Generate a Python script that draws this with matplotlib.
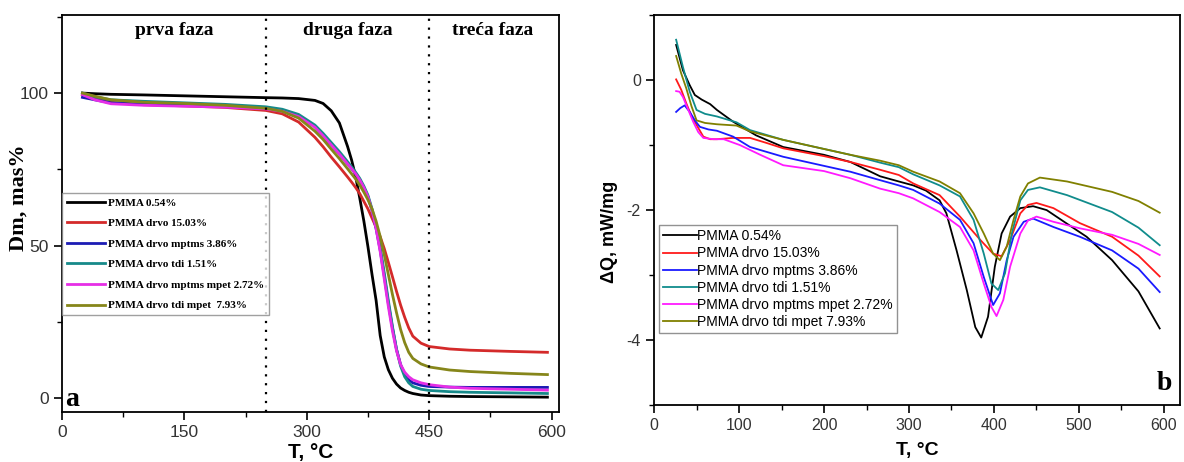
import numpy as np
import matplotlib
matplotlib.use("Agg")
import matplotlib.pyplot as plt
from matplotlib.ticker import MultipleLocator

plt.rcParams["axes.unicode_minus"] = False

# legend labels and colours
labels = ["PMMA 0.54%", "PMMA drvo 15.03%", "PMMA drvo mptms 3.86%",
          "PMMA drvo tdi 1.51%", "PMMA drvo mptms mpet 2.72%", "PMMA drvo tdi mpet  7.93%"]
labels_b = ["PMMA 0.54%", "PMMA drvo 15.03%", "PMMA drvo mptms 3.86%",
            "PMMA drvo tdi 1.51%", "PMMA drvo mptms mpet 2.72%", "PMMA drvo tdi mpet 7.93%"]
colors_a = ["#000000", "#d42a2a", "#1c1cb4", "#168a8a", "#e62ee6", "#86861a"]
colors_b = ["#000000", "#ff1a1a", "#1a1aff", "#108c8c", "#ff1aff", "#808000"]

# ---- panel a : TGA, mass %
T_tga = [25, 40, 60, 100, 150, 200, 250, 270, 290, 310, 320, 330, 340, 350, 355, 360, 365,
         370, 375, 380, 385, 390, 395, 400, 405, 410, 415, 420, 425, 430, 440, 450, 475,
         500, 550, 595]
m_black = [100, 99.8, 99.6, 99.4, 99.1, 98.8, 98.5, 98.4, 98.2, 97.6, 96.6, 94.2, 90.2, 82.5,
           78, 72.5, 65.5, 58, 49.6, 40.5, 32, 20.5, 13.5, 9.3, 6.5, 4.6, 3.3, 2.5, 1.9, 1.5,
           1.0, 0.8, 0.6, 0.5, 0.4, 0.3]
m_red = [99.5, 98.5, 97, 96.2, 95.8, 95.3, 94.3, 93.2, 90.5, 85.5, 82.4, 79, 75.8, 72.5, 70.8,
         69, 67, 64.5, 62, 59, 56, 52.9, 49, 44.5, 39.8, 35, 30.5, 26.5, 23, 20.3, 18, 16.9,
         16.1, 15.7, 15.3, 15.0]
m_blue = [98.6, 97.8, 96.8, 96.3, 96.0, 95.7, 95.0, 94.2, 92.5, 89, 86, 83, 80, 76.8, 75.2,
          73.5, 71.5, 69, 66, 61.5, 55.5, 48.5, 40, 31, 23, 16, 11, 7.8, 6, 5, 4.2, 3.8, 3.6,
          3.5, 3.5, 3.5]
m_teal = [100, 98.8, 97.8, 97.3, 96.8, 96.3, 95.5, 94.7, 93, 89.5, 86.8, 83.8, 80.8, 77.5,
          75.8, 74, 72, 69.5, 66.5, 62, 56.5, 49.5, 41, 32, 23.5, 16, 10.5, 7, 5, 3.8, 2.9,
          2.5, 2.1, 1.9, 1.7, 1.5]
m_mag = [99.5, 97.8, 96.5, 96, 95.7, 95.4, 94.8, 94, 92.3, 88.8, 86, 83, 80, 76.8, 75.2, 73.5,
         71.5, 69, 66, 61.5, 55.5, 48, 39, 30, 22, 15.5, 11, 8.5, 7, 6, 5, 4.4, 3.6, 3.2,
         2.9, 2.6]
m_olive = [100, 99, 97.8, 97.0, 96.6, 96.0, 95.0, 94, 91.8, 87.5, 84.8, 81.6, 78.5, 75.2,
           73.5, 71.8, 69.8, 67.5, 65, 62, 58, 53, 47, 40.5, 34, 28, 22.5, 18.2, 15, 13, 11.2,
           10.2, 9.2, 8.7, 8.1, 7.7]

# ---- panel b : DSC, mW/mg
T_black = [26, 34, 42, 48, 56, 66, 74, 93, 120, 152, 200, 231, 266, 288, 305, 320, 336, 344,
           356, 368, 378, 385, 393, 401, 409, 419, 431, 446, 462, 486, 509, 539, 570, 595]
q_black = [0.54, 0.15, -0.08, -0.23, -0.30, -0.37, -0.46, -0.64, -0.85, -1.03, -1.15, -1.26,
           -1.48, -1.56, -1.62, -1.70, -1.85, -2.05, -2.62, -3.23, -3.80, -3.96, -3.64, -2.87,
           -2.36, -2.10, -1.97, -1.94, -2.00, -2.21, -2.41, -2.77, -3.25, -3.82]
T_red = [26, 32, 38, 44, 50, 58, 66, 74, 93, 113, 133, 152, 200, 231, 266, 288, 305, 336,
         360, 384, 399, 409, 419, 431, 440, 450, 470, 501, 539, 570, 595]
q_red = [0.01, -0.15, -0.36, -0.55, -0.69, -0.87, -0.91, -0.91, -0.89, -0.89, -0.97, -1.05,
         -1.17, -1.26, -1.38, -1.46, -1.59, -1.77, -2.10, -2.46, -2.67, -2.71, -2.46, -2.05,
         -1.92, -1.89, -1.97, -2.20, -2.41, -2.70, -3.02]
T_blue = [26, 31, 36, 42, 48, 54, 64, 74, 93, 113, 152, 200, 231, 266, 288, 305, 336, 360,
          376, 388, 399, 407, 415, 423, 435, 446, 470, 501, 539, 570, 595]
q_blue = [-0.49, -0.43, -0.39, -0.49, -0.62, -0.72, -0.76, -0.78, -0.87, -1.03, -1.18, -1.32,
          -1.41, -1.54, -1.62, -1.69, -1.90, -2.15, -2.51, -3.03, -3.46, -3.28, -2.77, -2.41,
          -2.18, -2.13, -2.26, -2.41, -2.62, -2.90, -3.26]
T_teal = [26, 34, 42, 50, 60, 74, 97, 113, 152, 200, 231, 266, 288, 305, 336, 360, 376, 388,
          397, 405, 413, 421, 431, 440, 454, 486, 539, 570, 595]
q_teal = [0.62, 0.20, -0.18, -0.46, -0.52, -0.56, -0.65, -0.77, -0.92, -1.06, -1.15, -1.27,
          -1.34, -1.45, -1.62, -1.79, -2.15, -2.67, -3.13, -3.23, -2.97, -2.36, -1.85, -1.69,
          -1.65, -1.77, -2.03, -2.27, -2.54]
T_mag = [26, 30, 34, 40, 46, 52, 58, 70, 82, 101, 125, 152, 200, 231, 266, 288, 305, 336,
         360, 376, 388, 397, 403, 411, 419, 431, 440, 450, 470, 501, 539, 570, 595]
q_mag = [-0.17, -0.18, -0.26, -0.45, -0.64, -0.80, -0.89, -0.91, -0.91, -1.00, -1.15, -1.31,
         -1.40, -1.51, -1.67, -1.74, -1.82, -2.03, -2.26, -2.62, -3.13, -3.49, -3.63, -3.38,
         -2.87, -2.36, -2.16, -2.10, -2.18, -2.28, -2.38, -2.52, -2.69]
T_olive = [26, 32, 38, 44, 50, 60, 74, 97, 113, 152, 200, 231, 266, 288, 305, 336, 360, 376,
           388, 399, 407, 415, 423, 431, 440, 454, 486, 539, 570, 595]
q_olive = [0.37, 0.10, -0.13, -0.40, -0.62, -0.66, -0.68, -0.70, -0.79, -0.92, -1.06, -1.15,
           -1.24, -1.31, -1.41, -1.56, -1.74, -2.05, -2.36, -2.67, -2.77, -2.56, -2.15, -1.79,
           -1.59, -1.50, -1.56, -1.72, -1.86, -2.04]

phases = ["prva faza", "druga faza", "treća faza"]
phase_x = [138, 350, 528]
phase_bounds = [250, 450]

fig = plt.figure(figsize=(11.84, 4.62), dpi=100)
sans = "Liberation Sans"
serif = "Liberation Serif"

# ================= panel a
ax1 = fig.add_axes([0.0524, 0.108, 0.4196, 0.8595])
tga = [m_black, m_red, m_blue, m_teal, m_mag, m_olive]
for y, c, lab in zip(tga, colors_a, labels):
    ax1.plot(T_tga, y, color=c, lw=2.0, label=lab)
for xb in phase_bounds:
    ax1.axvline(xb, color="black", lw=1.6, linestyle=(0, (1, 3)))
for txt, xp in zip(phases, phase_x):
    ax1.text(xp, 120.5, txt, ha="center", va="center", fontsize=14,
             fontweight="bold", family=serif)
ax1.text(12, -0.5, "a", ha="center", va="center", fontsize=20, fontweight="bold", family=serif)

ax1.set_xlim(0, 609)
ax1.set_ylim(-4.6, 125.6)
ax1.xaxis.set_major_locator(MultipleLocator(150))
ax1.xaxis.set_minor_locator(MultipleLocator(75))
ax1.yaxis.set_major_locator(MultipleLocator(50))
ax1.yaxis.set_minor_locator(MultipleLocator(25))
ax1.tick_params(which="major", direction="out", length=6, width=1.2, labelsize=12.5)
ax1.tick_params(which="minor", direction="out", length=3.5, width=1.0)
for lab in ax1.get_xticklabels() + ax1.get_yticklabels():
    lab.set_family(sans)
    lab.set_color("#333333")
for s in ax1.spines.values():
    s.set_linewidth(1.3)
ax1.set_xlabel("T, °C", fontsize=15, fontweight="bold", family=sans, labelpad=2)
ax1.set_ylabel("Dm, mas%", fontsize=16, fontweight="bold", family=serif)
ax1.yaxis.set_label_coords(-0.068, 0.54)

leg1 = ax1.legend(loc="upper left", bbox_to_anchor=(0.0, 0.552), borderaxespad=0,
                  fancybox=False, edgecolor="#888888", handlelength=3.4, handletextpad=0.3,
                  labelspacing=0.97, borderpad=0.45,
                  prop={"family": serif, "weight": "bold", "size": 8})
leg1.get_frame().set_linewidth(1.0)

# ================= panel b
ax2 = fig.add_axes([0.5524, 0.123, 0.4443, 0.8445])
dsc = [(T_black, q_black), (T_red, q_red), (T_blue, q_blue),
       (T_teal, q_teal), (T_mag, q_mag), (T_olive, q_olive)]
for (tx, qy), c, lab in zip(dsc, colors_b, labels_b):
    ax2.plot(tx, qy, color=c, lw=1.3, label=lab)
ax2.text(601, -4.66, "b", ha="center", va="center", fontsize=20, fontweight="bold", family=serif)

ax2.set_xlim(0, 619)
ax2.set_ylim(-5, 1)
ax2.xaxis.set_major_locator(MultipleLocator(100))
ax2.xaxis.set_minor_locator(MultipleLocator(50))
ax2.yaxis.set_major_locator(MultipleLocator(2))
ax2.yaxis.set_minor_locator(MultipleLocator(1))
ax2.tick_params(which="major", direction="out", length=6, width=1.2, labelsize=11.5)
ax2.tick_params(which="minor", direction="out", length=3.5, width=1.0)
for lab in ax2.get_xticklabels() + ax2.get_yticklabels():
    lab.set_family(sans)
    lab.set_color("#333333")
for s in ax2.spines.values():
    s.set_linewidth(1.3)
ax2.set_xlabel("T, °C", fontsize=14, fontweight="bold", family=sans, labelpad=6)
ax2.set_ylabel("ΔQ, mW/mg", fontsize=13, fontweight="bold", family=sans)
ax2.yaxis.set_label_coords(-0.068, 0.445)

leg2 = ax2.legend(loc="upper left", bbox_to_anchor=(0.01, 0.4615), borderaxespad=0,
                  fancybox=False, edgecolor="#777777", handlelength=2.4, handletextpad=0.0,
                  labelspacing=0.23, borderpad=0.3, prop={"family": sans, "size": 10})
leg2.get_frame().set_linewidth(1.0)

fig.savefig("out.png", dpi=100)
